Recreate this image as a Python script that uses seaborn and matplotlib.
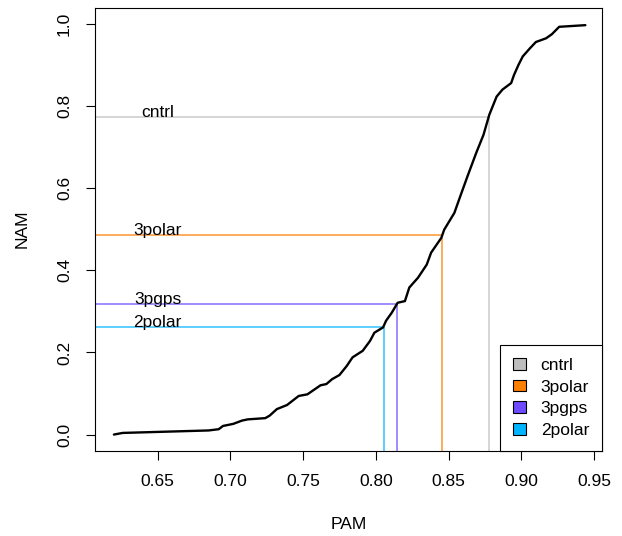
import seaborn as sns
import matplotlib.pyplot as plt
from matplotlib.patches import Patch
import pandas as pd

# curve (PAM vs NAM)
pam = [0.620, 0.626, 0.685, 0.692, 0.695, 0.702, 0.708, 0.712, 0.724, 0.727,
       0.732, 0.739, 0.747, 0.753, 0.762, 0.766, 0.770, 0.775, 0.780, 0.784,
       0.791, 0.796, 0.799, 0.805, 0.807, 0.811, 0.814, 0.815, 0.820, 0.823,
       0.829, 0.835, 0.838, 0.845, 0.847, 0.854, 0.858, 0.863, 0.869, 0.874,
       0.878, 0.883, 0.887, 0.893, 0.895, 0.898, 0.901, 0.906, 0.910, 0.917,
       0.921, 0.926, 0.944]
nam = [0.000, 0.004, 0.010, 0.013, 0.021, 0.026, 0.034, 0.037, 0.040, 0.046,
       0.062, 0.072, 0.094, 0.098, 0.120, 0.123, 0.135, 0.145, 0.167, 0.188,
       0.204, 0.228, 0.248, 0.261, 0.277, 0.297, 0.315, 0.321, 0.325, 0.358,
       0.382, 0.414, 0.443, 0.479, 0.499, 0.540, 0.580, 0.629, 0.686, 0.730,
       0.779, 0.823, 0.840, 0.856, 0.876, 0.900, 0.921, 0.941, 0.956, 0.965,
       0.975, 0.993, 0.997]

groups = ["cntrl", "3polar", "3pgps", "2polar"]
group_pam = [0.8775, 0.8457, 0.8148, 0.8054]
group_nam = [0.773, 0.486, 0.317, 0.263]
colors = ["#BEBEBE", "#FF7F00", "#6E4BFF", "#00B4FF"]

sns.set_style("white")
plt.rcParams["font.family"] = ["Liberation Sans", "DejaVu Sans"]
plt.rcParams["font.size"] = 12.5
for k in ["text.color", "axes.labelcolor", "xtick.color", "ytick.color"]:
    plt.rcParams[k] = "black"

df = pd.DataFrame({"PAM": pam, "NAM": nam})

fig = plt.figure(figsize=(6.22, 5.36), dpi=100)
ax = fig.add_axes([0.1527, 0.1586, 0.8153, 0.8274])

xlo, xhi = 0.607, 0.9555
ylo, yhi = -0.04, 1.04
ax.set_xlim(xlo, xhi)
ax.set_ylim(ylo, yhi)

sns.lineplot(data=df, x="PAM", y="NAM", sort=False, color="black",
             linewidth=1.7, ax=ax, zorder=3)

for g, gx, gy, c in zip(groups, group_pam, group_nam, colors):
    ax.hlines(gy, xlo, gx, colors=c, linewidth=1.2, alpha=0.75, zorder=2)
    ax.vlines(gx, ylo, gy, colors=c, linewidth=1.2, alpha=0.75, zorder=2)
    ax.text(0.65, gy, g, ha="center", va="baseline", fontsize=12.5)

ax.set_xticks([0.65, 0.70, 0.75, 0.80, 0.85, 0.90, 0.95])
ax.set_xticklabels(["0.65", "0.70", "0.75", "0.80", "0.85", "0.90", "0.95"])
ax.set_yticks([0.0, 0.2, 0.4, 0.6, 0.8, 1.0])
ax.set_yticklabels(["0.0", "0.2", "0.4", "0.6", "0.8", "1.0"])
ax.tick_params(axis="both", direction="out", length=6.5, width=0.8,
               color="black", pad=10, labelsize=12.5, bottom=True, left=True)
plt.setp(ax.get_yticklabels(), rotation=90, va="center", ha="right")

for s in ax.spines.values():
    s.set_color("black")
    s.set_linewidth(0.8)

ax.set_xlabel("PAM", fontsize=12.5, labelpad=20)
ax.set_ylabel("NAM", fontsize=12.5, labelpad=20)

handles = [Patch(facecolor=c, edgecolor="black", linewidth=0.8) for c in colors]
leg = ax.legend(handles, groups, loc="lower right", borderaxespad=0,
                fancybox=False, framealpha=1, edgecolor="black",
                handlelength=0.75, handleheight=0.65, handletextpad=0.85,
                labelspacing=0.38, borderpad=0.75, fontsize=12.5)
leg.get_frame().set_linewidth(0.8)

plt.savefig("out.png", dpi=100)
